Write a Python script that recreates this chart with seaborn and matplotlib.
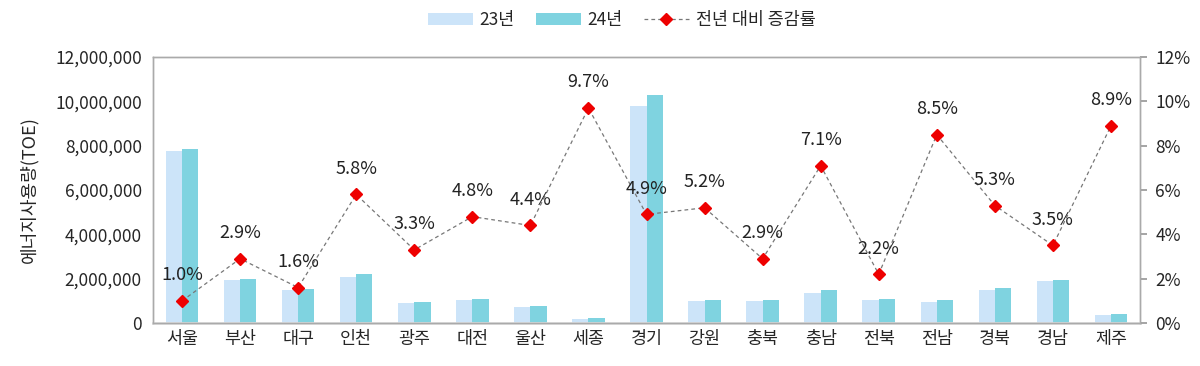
import pandas as pd
import matplotlib
matplotlib.use('Agg')
import matplotlib.pyplot as plt
import matplotlib.ticker as mticker
import seaborn as sns

# data
regions = ['서울', '부산', '대구', '인천', '광주', '대전', '울산', '세종', '경기',
           '강원', '충북', '충남', '전북', '전남', '경북', '경남', '제주']
use_23 = [7760000, 1940000, 1490000, 2070000, 900000, 1040000, 720000, 200000, 9800000,
          1000000, 1000000, 1360000, 1050000, 950000, 1500000, 1880000, 370000]
use_24 = [7850000, 2000000, 1530000, 2200000, 950000, 1100000, 770000, 220000, 10300000,
          1050000, 1050000, 1480000, 1100000, 1050000, 1580000, 1950000, 400000]
rates = [1.0, 2.9, 1.6, 5.8, 3.3, 4.8, 4.4, 9.7, 4.9, 5.2, 2.9, 7.1, 2.2, 8.5, 5.3, 3.5, 8.9]

sns.set_theme(style='white')
plt.rcParams['font.family'] = ['Noto Sans CJK KR', 'DejaVu Sans']

df = pd.DataFrame({
    'region': regions * 2,
    'value': use_23 + use_24,
    'year': ['23년'] * len(regions) + ['24년'] * len(regions),
})

fig = plt.figure(figsize=(12, 3.66), dpi=100)
ax = fig.add_axes([0.1275, 0.1175, 0.8225, 0.7265])

sns.barplot(data=df, x='region', y='value', hue='year',
            palette=['#cce4f9', '#7fd3e0'], saturation=1, width=0.56, gap=0,
            linewidth=0, ax=ax, legend=True)
ax.set_xlim(-0.5, len(regions) - 0.5)
ax.set_ylim(0, 12000000)
ax.set_yticks(range(0, 12000001, 2000000))
ax.yaxis.set_major_formatter(mticker.FuncFormatter(lambda v, p: f'{int(v):,}'))
ax.set_xlabel('')
ax.set_ylabel('에너지사용량(TOE)', fontsize=13, labelpad=12)
ax.tick_params(axis='both', labelsize=12.5, length=0, pad=8)
ax.tick_params(axis='x', pad=5)

ax2 = ax.twinx()
line, = ax2.plot(range(len(regions)), rates, linestyle='--', color='#777777', linewidth=0.9,
                 marker='D', markersize=6.5, markerfacecolor='#ee0000',
                 markeredgecolor='#ee0000', label='전년 대비 증감률', dashes=(3, 2.5))
ax2.set_ylim(0, 12)
ax2.set_yticks(range(0, 13, 2))
ax2.yaxis.set_major_formatter(mticker.FuncFormatter(lambda v, p: f'{int(v)}%'))
ax2.tick_params(axis='y', labelsize=12.5, direction='out', length=5, color='#999999', pad=6)
for i, r in enumerate(rates):
    ax2.annotate(f'{r:.1f}%', (i, r), xytext=(0, 12), textcoords='offset points',
                 ha='center', va='bottom', fontsize=13, color='#222222')

for a in (ax, ax2):
    for s in a.spines.values():
        s.set_color('#aaaaaa')
        s.set_linewidth(1)
ax.spines['bottom'].set_color('#d9d9d9')
ax.spines['bottom'].set_linewidth(2)

handles, labels = ax.get_legend_handles_labels()
ax.get_legend().remove()
fig.legend(handles + [line], labels + ['전년 대비 증감률'], loc='center',
           bbox_to_anchor=(0.518, 0.945), ncol=3, frameon=False, fontsize=12.5,
           handlelength=2.6, handleheight=0.6, columnspacing=1.2, handletextpad=0.4)

fig.savefig('out.png', dpi=100)
